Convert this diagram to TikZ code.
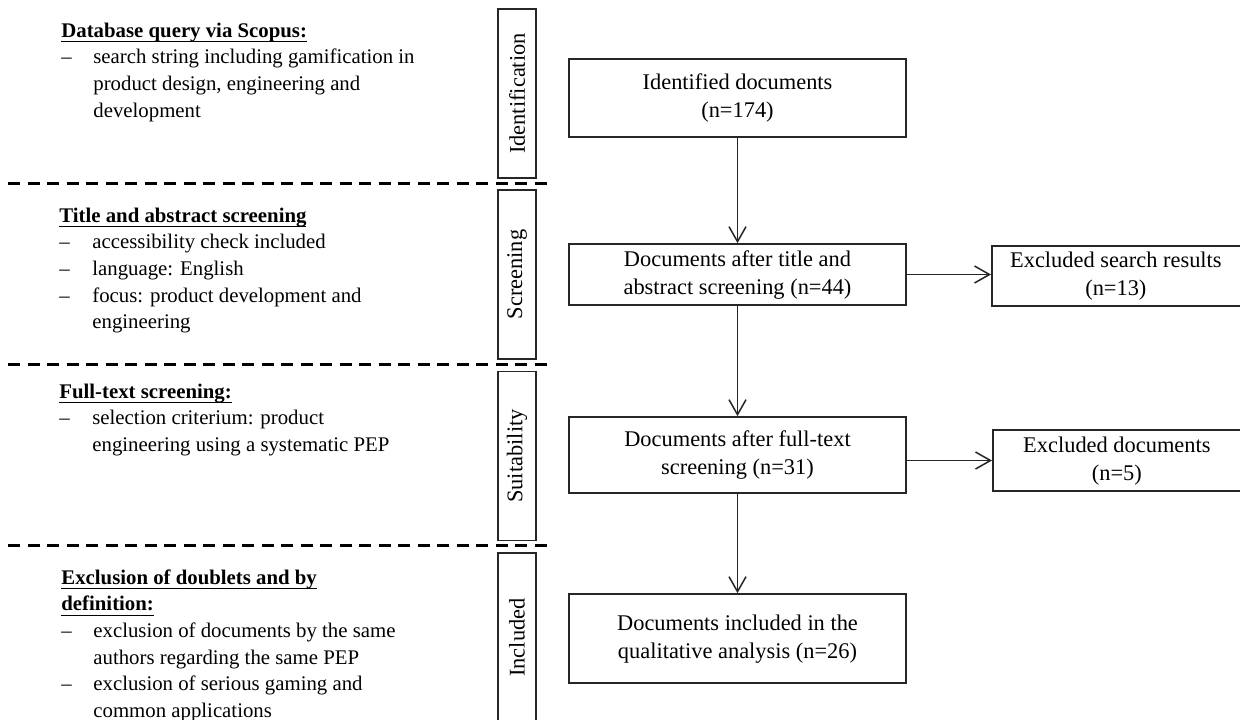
\documentclass[tikz,border=0pt]{standalone}
\usepackage{fontspec}
\setmainfont{Liberation Serif}
\usetikzlibrary{arrows.meta}
\newcommand\hd[1]{\setbox0\hbox{\textbf{#1}}\rlap{\rule[-2.6pt]{\wd0}{0.7pt}}\box0}
\newcommand\bl[2]{\hspace*{#1}\makebox[#2][l]{–}}
\newcommand\twoline[2]{\begin{tabular}{@{}c@{}}#1\\#2\end{tabular}}
\begin{document}
\begin{tikzpicture}[x=0.5pt,y=-0.5pt,
  boxline/.style={draw=black!85, line width=0.85pt},
  mainbox/.style={boxline, inner sep=0pt, font=\fontsize{11.2}{14}\selectfont},
  phasebox/.style={boxline, rotate=90, inner sep=0pt, minimum width=84.5pt, minimum height=19pt, font=\fontsize{11.2}{14}\selectfont},
  lefttext/.style={anchor=base west, inner sep=0pt, font=\fontsize{10.4}{13.35}\selectfont},
  sepline/.style={draw=black, line width=1.5pt, dash pattern=on 6pt off 3.75pt},
  conn/.style={line width=0.75pt, draw=black!85, -{Straight Barb[length=7.5pt,width=8.5pt]}}]
\useasboundingbox (0,0) rectangle (1240,719);
\clip (0,0) rectangle (1240,719);
\fill[white] (0,0) rectangle (1240,719);

% separators
\draw[sepline] (8,183) -- (553,183);
\draw[sepline] (8,364) -- (553,364);
\draw[sepline] (8,545) -- (553,545);

% phase boxes
\node[phasebox] (pid) at (517,93.5) {Identification};
\node[phasebox] (psc) at (517,274.5) {Screening};
\node[phasebox] (psu) at (517,456) {Suitability};
\node[phasebox] (pin) at (517,637.5) {Included};

% main flow
\node[mainbox, minimum width=168.5pt, minimum height=39pt] (ident) at (737.5,98)
  {\twoline{Identified documents}{(n=174)}};
\node[mainbox, minimum width=168.5pt, minimum height=30.5pt] (title) at (737.5,274.5)
  {\twoline{Documents after title and}{abstract screening (n=44)}};
\node[mainbox, minimum width=168.5pt, minimum height=38pt] (full) at (737.5,455)
  {\twoline{Documents after full-text}{screening (n=31)}};
\node[mainbox, minimum width=168.5pt, minimum height=44.5pt] (incl) at (737.5,638.5)
  {\twoline{Documents included in the}{qualitative analysis (n=26)}};
\node[mainbox, anchor=west, minimum width=140pt, minimum height=30pt] (exsr) at (991,276)
  {\twoline{Excluded search results}{(n=13)}\hspace*{16pt}};
\node[mainbox, anchor=west, minimum width=140pt, minimum height=30.5pt] (exdoc) at (992,460.5)
  {\twoline{Excluded documents}{(n=5)}\hspace*{16pt}};

\draw[conn] (ident.south) -- (title.north);
\draw[conn] (title.south) -- (full.north);
\draw[conn] (full.south) -- (incl.north);
\draw[conn] (title.east) -- (title.east -| exsr.west);
\draw[conn] (exdoc.west -| full.east) -- (exdoc.west);

% left descriptions
\node[lefttext] (t1) at (61,37) {\begin{tabular}[t]{@{}l@{}}
  \hd{Database query via Scopus:}\\
  \bl{0pt}{16pt}search string including gamification in\\
  \hspace*{16pt}product design, engineering and\\
  \hspace*{16pt}development
\end{tabular}};
\node[lefttext] (t2) at (59,222) {\begin{tabular}[t]{@{}l@{}}
  \hd{Title and abstract screening}\\
  \bl{0pt}{16.5pt}accessibility check included\\
  \bl{0pt}{16.5pt}language: English\\
  \bl{0pt}{16.5pt}focus: product development and\\
  \hspace*{16.5pt}engineering
\end{tabular}};
\node[lefttext] (t3) at (59,398) {\begin{tabular}[t]{@{}l@{}}
  \hd{Full-text screening:}\\
  \bl{0pt}{16.5pt}selection criterium: product\\
  \hspace*{16.5pt}engineering using a systematic PEP
\end{tabular}};
\node[lefttext] (t4) at (61,584) {\begin{tabular}[t]{@{}l@{}}
  \hd{Exclusion of doublets and by}\\
  \hd{definition:}\\
  \bl{0pt}{16pt}exclusion of documents by the same\\
  \hspace*{16pt}authors regarding the same PEP\\
  \bl{0pt}{16pt}exclusion of serious gaming and\\
  \hspace*{16pt}common applications
\end{tabular}};
\end{tikzpicture}
\end{document}
